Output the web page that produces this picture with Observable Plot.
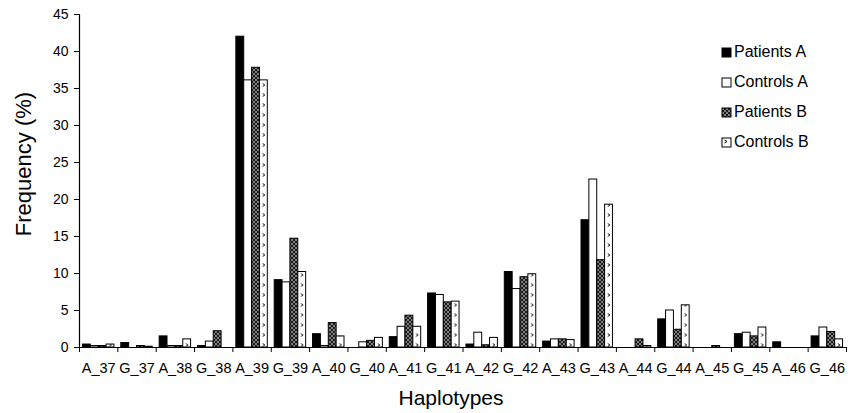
<!DOCTYPE html>
<html><head><meta charset="utf-8">
<script src="https://cdn.jsdelivr.net/npm/d3@7"></script>
<script src="https://cdn.jsdelivr.net/npm/@observablehq/plot@0.6"></script>
<style>
body{margin:0;background:#fff;font-family:"Liberation Sans",Arial,sans-serif}
#wrap{position:relative;width:853px;height:413px}
#legend{position:absolute;left:721px;top:37px;font-size:16px;color:#000;line-height:30px}
.item{display:flex;align-items:center;height:30px}
.item svg{margin-right:2px}
</style></head><body>
<svg width="0" height="0" style="position:absolute">
<defs>
<pattern id="pb" patternUnits="userSpaceOnUse" width="4" height="4">
<rect width="4" height="4" fill="#1a1a1a"/>
<path d="M0,0L4,4M4,0L0,4" stroke="#9a9a9a" stroke-width="0.8"/>
</pattern>
<pattern id="cb" patternUnits="userSpaceOnUse" width="38.35" height="10" patternTransform="translate(79,0)">
<rect width="38.35" height="10" fill="#fff"/>
<path d="M30.2,3.5L32.4,5L30.2,6.5" fill="none" stroke="#000" stroke-width="0.9"/>
</pattern>
<pattern id="cbl" patternUnits="userSpaceOnUse" width="9" height="9">
<rect width="9" height="9" fill="#fff"/>
<path d="M3.5,3L6,4.5L3.5,6" fill="none" stroke="#000" stroke-width="1"/>
</pattern>
</defs></svg>
<div id="wrap"><div id="chart"></div><div id="legend"></div></div>
<script>
const haplotypes = ["A_37","G_37","A_38","G_38","A_39","G_39","A_40","G_40","A_41","G_41","A_42","G_42","A_43","G_43","A_44","G_44","A_45","G_45","A_46","G_46"];
const seriesNames = ["Patients A","Controls A","Patients B","Controls B"];
const patientsA = [0.4,0.6,1.5,0.2,42.0,9.1,1.8,0,1.4,7.3,0.4,10.2,0.8,17.2,0,3.8,0,1.8,0.7,1.5];
const controlsA = [0.2,0,0.2,0.8,36.1,8.8,0.2,0.7,2.8,7.1,2.0,7.9,1.1,22.7,0,5.0,0,2.0,0,2.7];
const patientsB = [0.2,0.2,0.2,2.2,37.8,14.7,3.3,0.9,4.3,6.1,0.3,9.5,1.1,11.8,1.1,2.4,0.2,1.5,0,2.1];
const controlsB = [0.4,0.1,1.1,0,36.1,10.2,1.5,1.3,2.8,6.2,1.3,9.9,1.0,19.3,0.2,5.7,0,2.7,0,1.1];
const yTicks = [0,5,10,15,20,25,30,35,40,45];

const seriesValues = [patientsA, controlsA, patientsB, controlsB];
const fills = ["#000", "#fff", "url(#pb)", "url(#cb)"];
const rows = [];
seriesValues.forEach((vals, s) => vals.forEach((v, i) => { if (v > 0) rows.push({i, s, v}); }));

const pad = 0.09, bw = 0.205;
const bars = seriesNames.map((name, s) => Plot.rectY(rows.filter(d => d.s === s), {
  x1: d => d.i + pad + d.s * bw,
  x2: d => d.i + pad + (d.s + 1) * bw,
  y1: 0, y2: "v",
  fill: fills[s], stroke: "#000", strokeWidth: 1
}));

const chart = Plot.plot({
  width: 853, height: 413,
  marginLeft: 79, marginRight: 7, marginTop: 14, marginBottom: 66,
  style: {fontFamily: '"Liberation Sans", Arial, sans-serif', fontSize: "14px", color: "#000", background: "#fff"},
  x: {type: "linear", domain: [0, haplotypes.length]},
  y: {domain: [0, 45]},
  marks: [
    ...bars,
    Plot.ruleY([0], {stroke: "#000", strokeWidth: 1.2}),
    Plot.ruleX([0], {stroke: "#000", strokeWidth: 1.2}),
    Plot.axisY({ticks: yTicks, tickSize: 5, tickPadding: 6, label: null, fontSize: 14}),
    Plot.axisX({ticks: d3.range(haplotypes.length + 1), tickSize: 5, tickFormat: () => "", label: null}),
    Plot.axisX({ticks: haplotypes.map((h, i) => i + 0.5), tickSize: 0, tickPadding: 15, tickFormat: d => haplotypes[Math.floor(d)], label: null, fontSize: 14.5}),
    Plot.text(["Haplotypes"], {frameAnchor: "bottom", dy: 57, dx: -12, fontSize: 21, text: d => d}),
    Plot.text(["Frequency (%)"], {frameAnchor: "left", textAnchor: "middle", rotate: -90, dx: -56, dy: -17, fontSize: 22, text: d => d})
  ]
});
document.getElementById("chart").append(chart);

const legend = document.getElementById("legend");
seriesNames.forEach((name, s) => {
  const item = document.createElement("div");
  item.className = "item";
  const lf = s === 3 ? "url(#cbl)" : fills[s];
  item.innerHTML = `<svg width="11" height="11"><rect x="1" y="1" width="9" height="9" fill="${lf}" stroke="#000" stroke-width="1"/></svg><span>${name}</span>`;
  legend.append(item);
});
</script>
</body></html>
